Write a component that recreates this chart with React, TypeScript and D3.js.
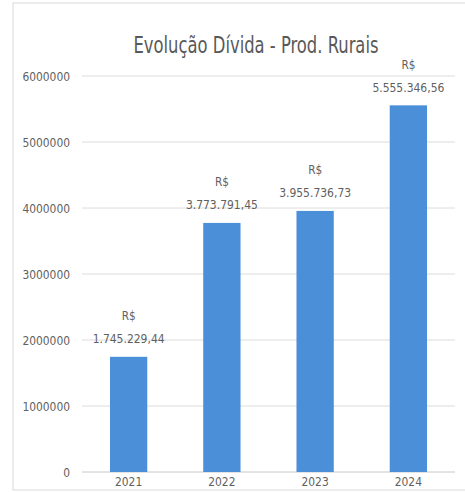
import React from "react";
import * as d3 from "d3";

const categories = ["2021", "2022", "2023", "2024"];
const values = [1745229.44, 3773791.45, 3955736.73, 5555346.56];
const valueLabels = ["1.745.229,44", "3.773.791,45", "3.955.736,73", "5.555.346,56"];
const yTicks = [0, 1000000, 2000000, 3000000, 4000000, 5000000, 6000000];
const title = "Evolução Dívida - Prod. Rurais";

const W = 465;
const H = 492;
const FONT = "'Liberation Sans Narrow', 'DejaVu Sans Condensed', 'Arial Narrow', sans-serif";

export default function App() {
  const x = d3.scaleBand<string>().domain(categories).range([82, 455]).paddingInner(0.6).paddingOuter(0.3);
  const y = d3.scaleLinear().domain([0, 6000000]).range([472, 76]);
  const barColor = "#4a8fd8";
  const textColor = "#5f5f5f";

  return (
    <svg width={W} height={H} style={{ position: "absolute", left: 0, top: 0, background: "#fff" }}>
      <rect x={13} y={3} width={470} height={487} fill="#fff" stroke="#d9d9d9" strokeWidth={1} />
      <text x={256} y={53} textAnchor="middle" fontFamily={FONT} fontSize={23} fill="#595959"
        textLength={245} lengthAdjust="spacingAndGlyphs">{title}</text>
      {yTicks.map((t) => {
        const s = String(t);
        return (
          <g key={t}>
            <line x1={82} x2={455} y1={y(t)} y2={y(t)} stroke={t === 0 ? "#c8c8c8" : "#dcdcdc"} strokeWidth={1} />
            <text x={70} y={y(t)} dy="0.35em" textAnchor="end" fontFamily={FONT} fontSize={13} fill={textColor}
              textLength={s.length * 6.8} lengthAdjust="spacingAndGlyphs">{s}</text>
          </g>
        );
      })}
      {categories.map((c, i) => {
        const bx = x(c)!;
        const cx = bx + x.bandwidth() / 2;
        const top = y(values[i]);
        return (
          <g key={c}>
            <rect x={bx} y={top} width={x.bandwidth()} height={y(0) - top} fill={barColor} />
            <text x={cx} y={top - 41} dy="0.35em" textAnchor="middle" fontFamily={FONT} fontSize={13} fill={textColor}
              textLength={14} lengthAdjust="spacingAndGlyphs">R$</text>
            <text x={cx} y={top - 18} dy="0.35em" textAnchor="middle" fontFamily={FONT} fontSize={13} fill={textColor}
              textLength={valueLabels[i].length * 6} lengthAdjust="spacingAndGlyphs">{valueLabels[i]}</text>
            <text x={cx} y={481} dy="0.35em" textAnchor="middle" fontFamily={FONT} fontSize={13} fill={textColor}
              textLength={c.length * 6.8} lengthAdjust="spacingAndGlyphs">{c}</text>
          </g>
        );
      })}
    </svg>
  );
}
